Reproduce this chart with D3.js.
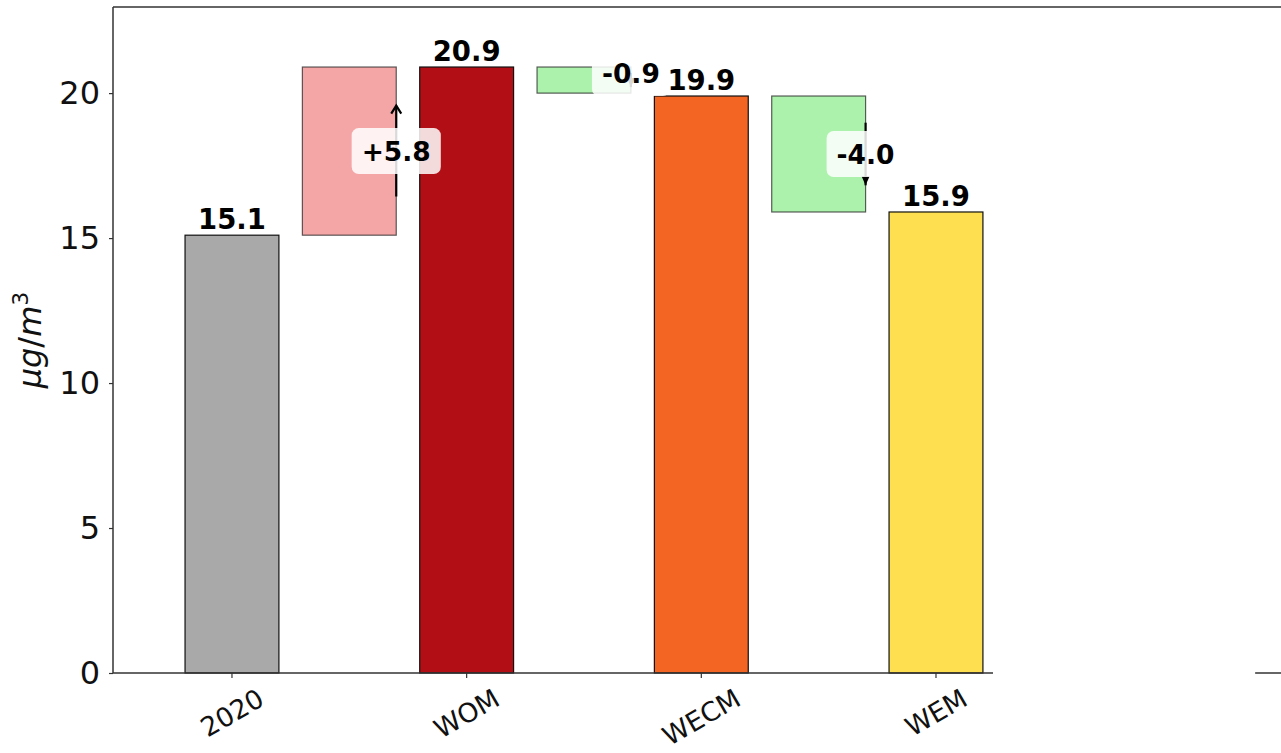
<!DOCTYPE html>
<html>
<head>
<meta charset="utf-8">
<script src="https://cdn.jsdelivr.net/npm/d3@7"></script>
<style>
  html, body { margin: 0; padding: 0; background: #fff; }
  svg { display: block; }
  text { font-family: "DejaVu Sans", sans-serif; }
</style>
</head>
<body>
<svg id="chart" width="1281" height="753"></svg>
<script>
// ---- data ----
const categories = ["2020", "WOM", "WECM", "WEM"];
const totals = [15.1, 20.9, 19.9, 15.9];
const deltas = [5.8, -0.9, -4.0];
const deltaLabels = ["+5.8", "-0.9", "-4.0"];
const barColors = ["#a9a9a9", "#b10f15", "#f26522", "#fedf50"];
const yTicks = [0, 5, 10, 15, 20];

// ---- layout ----
const W = 1281, H = 753;
const plotLeft = 113, plotTop = 7, plotBottom = 673;
const unitPx = 234.67;           // pixels per category step
const barWidth = 0.4;            // in category units
const svg = d3.select("#chart");

const x = d3.scaleLinear()
  .domain([-0.507, 4.47])
  .range([plotLeft, plotLeft + unitPx * (4.47 + 0.507)]);
const y = d3.scaleLinear().domain([0, 22.97]).range([plotBottom, plotTop]);

const upColor = "rgba(240,128,128,0.7)";
const downColor = "rgba(144,238,144,0.75)";

// ---- total bars ----
svg.append("g").selectAll("rect").data(totals).join("rect")
  .attr("x", (d, i) => x(i - barWidth / 2))
  .attr("width", (d, i) => x(i + barWidth / 2) - x(i - barWidth / 2))
  .attr("y", d => y(d))
  .attr("height", d => y(0) - y(d))
  .attr("fill", (d, i) => barColors[i])
  .attr("stroke", "#111")
  .attr("stroke-width", 1.2);

// value labels above bars
svg.append("g").selectAll("text").data(totals).join("text")
  .attr("x", (d, i) => x(i))
  .attr("y", d => y(d) - 6)
  .attr("text-anchor", "middle")
  .attr("font-size", 27.5)
  .attr("font-weight", "bold")
  .attr("fill", "#000")
  .text(d => d.toFixed(1));

// ---- delta bars ----
const deltaData = deltas.map((d, i) => ({
  pos: i + 0.5,
  start: totals[i],
  end: totals[i] + d,
  delta: d,
  label: deltaLabels[i]
}));

svg.append("g").selectAll("rect").data(deltaData).join("rect")
  .attr("x", d => x(d.pos - barWidth / 2))
  .attr("width", d => x(d.pos + barWidth / 2) - x(d.pos - barWidth / 2))
  .attr("y", d => y(Math.max(d.start, d.end)))
  .attr("height", d => Math.abs(y(d.start) - y(d.end)))
  .attr("fill", d => d.delta > 0 ? upColor : downColor)
  .attr("stroke", "rgba(40,40,40,0.75)")
  .attr("stroke-width", 1.2);

// arrows along the right edge of each delta bar
const arrowG = svg.append("g");
deltaData.forEach(d => {
  const ax = x(d.pos + barWidth / 2);
  const a0 = d.start + 0.23 * d.delta;
  const a1 = d.end - 0.23 * d.delta;
  const y0 = y(a0), y1 = y(a1);
  arrowG.append("line")
    .attr("x1", ax).attr("x2", ax)
    .attr("y1", y0).attr("y2", y1)
    .attr("stroke", "#000").attr("stroke-width", 2.2);
  const dir = d.delta > 0 ? -1 : 1; // screen direction of the head
  if (d.delta > 0) {
    arrowG.append("path")
      .attr("d", `M${ax - 5},${y1 - dir * 8} L${ax},${y1} L${ax + 5},${y1 - dir * 8}`)
      .attr("fill", "none").attr("stroke", "#000").attr("stroke-width", 2.2);
  } else {
    arrowG.append("path")
      .attr("d", `M${ax - 4},${y1 - dir * 9} L${ax},${y1} L${ax + 4},${y1 - dir * 9} Z`)
      .attr("fill", "#000");
  }
});

// delta labels with rounded translucent boxes
const boxH = 46;
const lblG = svg.append("g");
deltaData.forEach(d => {
  const cx = x(d.pos + barWidth / 2);
  const top = y(Math.max(d.start, d.end));
  const barPx = Math.abs(y(d.start) - y(d.end));
  // short bars: keep the label near the top edge of the bar
  const cy = barPx < boxH ? top + 6 : y((d.start + d.end) / 2);
  const g = lblG.append("g");
  const t = g.append("text")
    .attr("x", cx).attr("y", cy)
    .attr("text-anchor", "middle")
    .attr("dy", "0.36em")
    .attr("font-size", 26.5)
    .attr("font-weight", "bold")
    .attr("fill", "#000")
    .text(d.label);
  const bb = t.node().getBBox();
  g.insert("rect", "text")
    .attr("x", bb.x - 10).attr("y", cy - boxH / 2)
    .attr("width", bb.width + 20).attr("height", boxH)
    .attr("rx", 7).attr("ry", 7)
    .attr("fill", "rgba(255,255,255,0.85)");
});

// ---- axes ----
const yAxis = d3.axisLeft(y).tickValues(yTicks).tickSize(4).tickPadding(9)
  .tickSizeOuter(0);
const yg = svg.append("g").attr("transform", `translate(${plotLeft},0)`).call(yAxis);
yg.select(".domain").remove();
yg.selectAll(".tick line").attr("stroke", "#333").attr("stroke-width", 1.2);
yg.selectAll(".tick text")
  .attr("font-size", 32).attr("fill", "#111")
  .attr("font-family", "DejaVu Sans");

// x ticks at category positions
const xg = svg.append("g");
categories.forEach((c, i) => {
  const px = x(i);
  xg.append("line")
    .attr("x1", px).attr("x2", px)
    .attr("y1", plotBottom).attr("y2", plotBottom + 5)
    .attr("stroke", "#333").attr("stroke-width", 1.2);
  const fs = 26.5;
  const t = xg.append("text")
    .attr("font-size", fs)
    .attr("fill", "#111")
    .attr("text-anchor", "middle")
    .attr("dominant-baseline", "central")
    .text(c);
  const len = t.node().getComputedTextLength();
  const h = fs * 0.95;
  const rot = 30 * Math.PI / 180;
  const rotH = len * Math.sin(rot) + h * Math.cos(rot);
  const cy = plotBottom + 12 + rotH / 2;
  t.attr("transform", `translate(${px},${cy}) rotate(-30)`);
});

// spines
const spine = svg.append("g")
  .attr("stroke", "#333").attr("stroke-width", 1.5).attr("fill", "none");
spine.append("line").attr("x1", plotLeft).attr("x2", plotLeft)
  .attr("y1", plotTop).attr("y2", plotBottom);
spine.append("line").attr("x1", plotLeft).attr("x2", W)
  .attr("y1", plotTop).attr("y2", plotTop);
spine.append("line").attr("x1", plotLeft).attr("x2", x(3.243))
  .attr("y1", plotBottom).attr("y2", plotBottom);
spine.append("line").attr("x1", x(4.36)).attr("x2", W)
  .attr("y1", plotBottom).attr("y2", plotBottom);

// y axis title: μg/m³
const yt = svg.append("text")
  .attr("transform", `translate(41,${(plotTop + plotBottom) / 2}) rotate(-90)`)
  .attr("text-anchor", "middle")
  .attr("font-size", 32)
  .attr("fill", "#111");
yt.append("tspan").attr("font-style", "italic").text("μg");
yt.append("tspan").text("/");
yt.append("tspan").attr("font-style", "italic").text("m");
yt.append("tspan").attr("font-size", 22).attr("dy", -13).text("3");
</script>
</body>
</html>
